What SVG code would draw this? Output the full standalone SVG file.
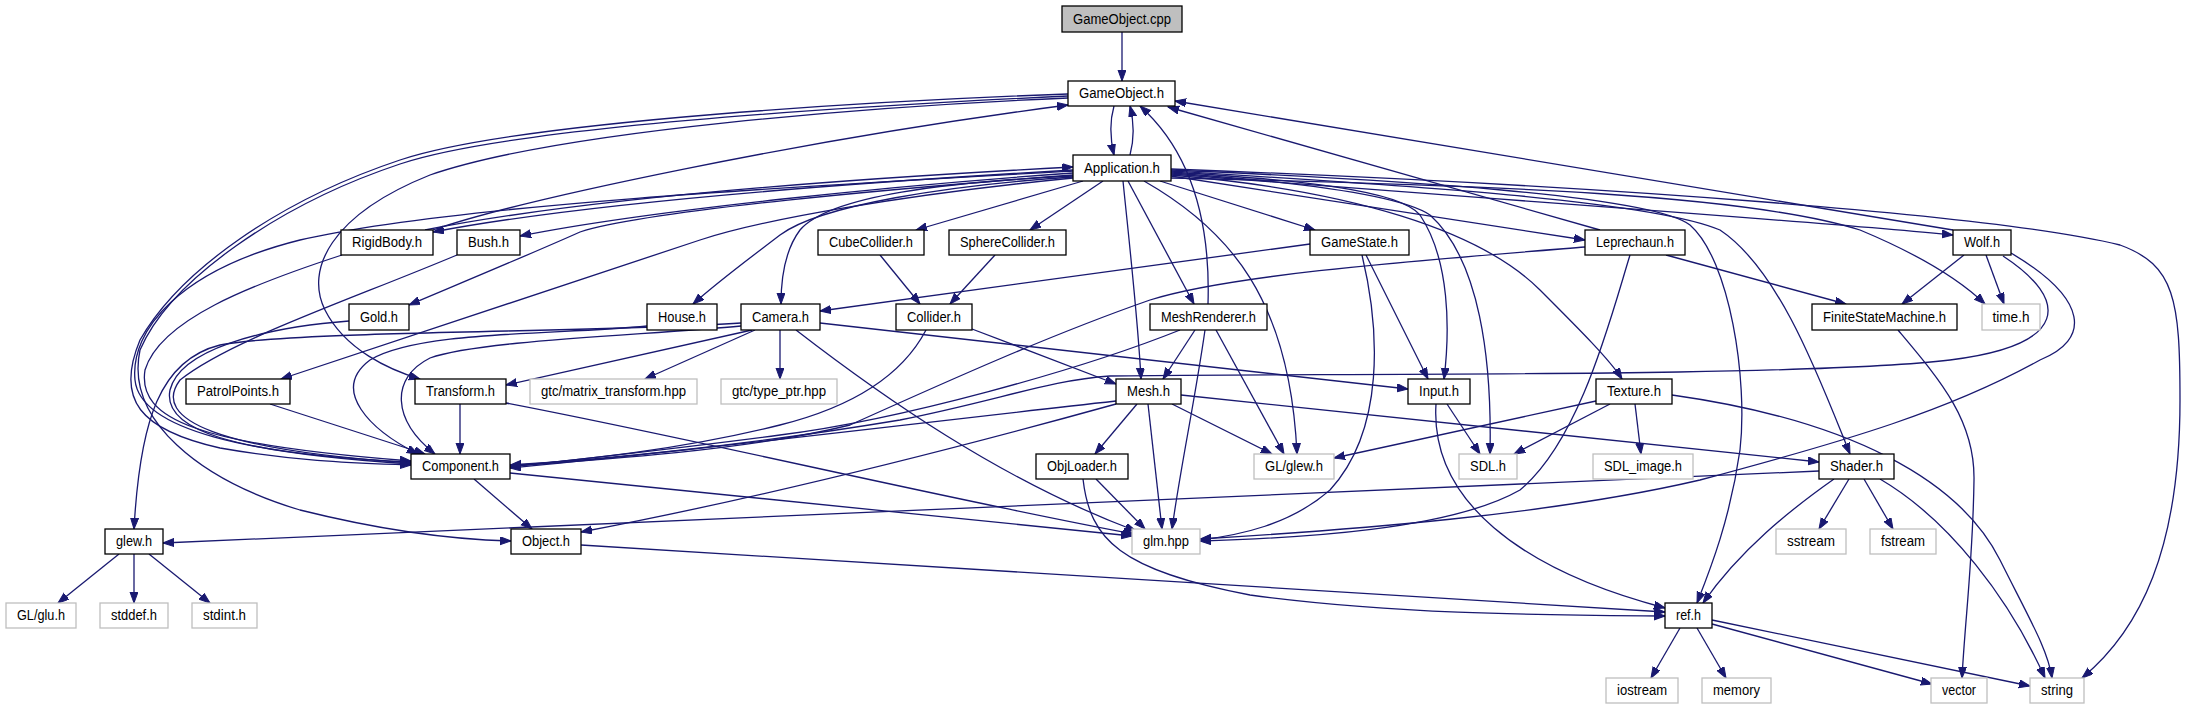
<svg xmlns="http://www.w3.org/2000/svg" width="2185" height="709" viewBox="0 0 2185 709">
<style>
.n rect{fill:#ffffff;stroke:#000000;stroke-width:1.3}
.x rect{fill:#ffffff;stroke:#bfbfbf;stroke-width:1.3}
.r rect{fill:#bfbfbf;stroke:#000000;stroke-width:1.3}
text{font-family:"Liberation Sans",Arial,sans-serif;font-size:14px;fill:#000000;text-anchor:middle}
#edges path{fill:none;stroke:#191970;stroke-width:1.3;marker-end:url(#ah)}
</style>
<defs>
<marker id="ah" markerUnits="userSpaceOnUse" markerWidth="12" markerHeight="9" refX="11" refY="4" orient="auto">
<path d="M0,0 L11,4 L0,8 z" fill="#191970" stroke="#191970" stroke-width="1"/>
</marker>
</defs>
<rect width="2185" height="709" fill="#ffffff"/>
<g id="edges">
<path d="M1122,32 L1122,81"/>
<path d="M1114,106 C1110,120 1110,138 1114,155"/>
<path d="M1130,155 C1134,140 1134,122 1130,106"/>
<path d="M1068,94 C900,100 520,120 400,160 C280,200 180,270 140,340 C115,400 140,430 220,448 C300,462 360,463 411,465"/>
<path d="M1068,96 C900,104 520,124 400,164 C280,204 170,280 140,350 C125,420 200,480 300,510 C400,535 470,540 511,541"/>
<path d="M1068,98 C880,106 560,130 430,175 C330,215 305,270 325,310 C345,350 390,370 420,379"/>
<path d="M433,230 C520,200 800,140 1068,105"/>
<path d="M1073,170 C900,180 600,200 433,232"/>
<path d="M425,230 C600,195 900,176 1073,167"/>
<path d="M1073,173 C900,185 650,210 520,236"/>
<path d="M1073,175 C900,188 650,210 580,232 C540,250 480,275 409,305"/>
<path d="M1073,177 C950,185 820,205 780,235 C750,258 720,280 693,304"/>
<path d="M1073,176 C950,182 830,195 800,230 C785,250 781,280 781,304"/>
<path d="M1073,178 C900,195 760,220 700,240 L281,379"/>
<path d="M1073,171 C800,186 450,205 300,240 C180,270 130,330 135,380 C140,430 250,455 411,462"/>
<path d="M342,255 C250,285 160,320 145,370 C137,420 200,445 411,461"/>
<path d="M457,255 C350,300 230,340 180,380 C150,420 220,450 411,463"/>
<path d="M349,321 C260,328 180,350 170,390 C162,430 230,452 411,464"/>
<path d="M647,326 C560,335 420,330 370,360 C330,390 370,430 418,454"/>
<path d="M741,326 C650,335 480,340 430,358 C390,378 392,420 435,454"/>
<path d="M741,323 C600,333 300,330 220,345 C160,360 140,420 134,529"/>
<path d="M270,404 L425,454"/>
<path d="M460,404 L460,454"/>
<path d="M752,330 L506,385"/>
<path d="M755,330 L645,379"/>
<path d="M780,330 L780,379"/>
<path d="M796,330 C880,395 1000,480 1136,531"/>
<path d="M820,323 L1408,389"/>
<path d="M1310,244 L820,311"/>
<path d="M880,255 L920,304"/>
<path d="M995,255 L950,304"/>
<path d="M972,329 L1116,384"/>
<path d="M926,330 C905,370 860,405 780,425 C680,450 580,460 510,466"/>
<path d="M1083,181 L916,230"/>
<path d="M1103,181 L1030,230"/>
<path d="M1123,181 C1130,250 1138,320 1141,379"/>
<path d="M1128,181 L1194,304"/>
<path d="M1144,181 C1230,230 1290,300 1297,454"/>
<path d="M1160,181 L1315,230"/>
<path d="M1208,304 C1210,240 1200,160 1140,106"/>
<path d="M1195,330 L1163,379"/>
<path d="M1216,330 L1284,454"/>
<path d="M1205,330 C1195,400 1180,470 1172,529"/>
<path d="M1180,330 C1080,370 900,420 780,435 C650,452 570,460 510,467"/>
<path d="M1137,404 L1095,454"/>
<path d="M1148,404 L1162,529"/>
<path d="M1172,404 L1272,454"/>
<path d="M1181,395 L1819,462"/>
<path d="M1116,401 C900,425 700,450 510,468"/>
<path d="M1116,404 C950,450 750,500 581,532"/>
<path d="M1096,479 L1145,529"/>
<path d="M1083,479 C1090,540 1120,570 1250,595 C1400,615 1550,615 1665,616"/>
<path d="M474,479 L532,529"/>
<path d="M510,473 L1132,536"/>
<path d="M506,403 C700,440 950,500 1134,534"/>
<path d="M581,545 L1665,612"/>
<path d="M119,554 L58,603"/>
<path d="M134,554 L134,603"/>
<path d="M149,554 L210,603"/>
<path d="M1819,471 C1500,488 900,510 163,543"/>
<path d="M1366,255 L1428,379"/>
<path d="M1362,255 C1380,330 1385,430 1330,490 C1290,525 1240,535 1200,540"/>
<path d="M1171,172 C1300,180 1400,190 1420,215 C1450,260 1450,330 1444,379"/>
<path d="M1171,173 C1300,182 1400,195 1430,215 C1480,260 1492,360 1490,454"/>
<path d="M1447,404 L1480,454"/>
<path d="M1436,404 C1430,500 1520,570 1665,608"/>
<path d="M1171,175 C1350,190 1480,230 1540,290 C1580,330 1610,360 1622,379"/>
<path d="M1596,401 L1334,458"/>
<path d="M1610,404 L1514,454"/>
<path d="M1635,404 L1641,454"/>
<path d="M1672,395 C1850,420 1960,480 2000,560 C2030,620 2048,650 2052,678"/>
<path d="M1171,171 C1400,185 1650,200 1720,230 C1780,270 1820,380 1850,454"/>
<path d="M1171,170 C1400,180 1650,195 1690,225 C1730,260 1748,380 1740,450 C1730,520 1710,570 1697,603"/>
<path d="M1171,176 L1585,240"/>
<path d="M1600,230 L1168,107"/>
<path d="M1666,255 L1846,304"/>
<path d="M1585,247 C1400,262 1230,275 1150,300 C1050,335 950,380 850,425 C750,450 600,460 510,466"/>
<path d="M1630,255 C1610,320 1580,440 1520,490 C1450,530 1300,538 1200,541"/>
<path d="M1171,174 C1500,200 1800,220 1953,235"/>
<path d="M1953,230 L1175,101"/>
<path d="M1964,255 L1902,304"/>
<path d="M1986,255 L2004,304"/>
<path d="M1171,178 C1500,185 1750,195 1860,230 C1920,255 1960,280 1985,304"/>
<path d="M1171,169 C1600,185 2000,215 2120,245 C2175,265 2180,300 2180,400 C2180,550 2140,630 2082,678"/>
<path d="M2003,256 C2070,300 2070,345 1950,360 C1800,378 1300,373 1110,376 C1050,380 1000,400 900,420 C750,445 600,460 510,465"/>
<path d="M2011,253 C2090,300 2090,340 2040,360 C1950,410 1850,440 1700,480 C1550,515 1350,530 1200,539"/>
<path d="M1898,330 C1940,380 1975,420 1974,480 C1973,560 1965,620 1962,678"/>
<path d="M1849,479 L1819,529"/>
<path d="M1864,479 L1893,529"/>
<path d="M1834,479 C1790,510 1740,550 1703,603"/>
<path d="M1880,479 C1950,520 2010,600 2045,678"/>
<path d="M1680,628 L1651,678"/>
<path d="M1697,628 L1726,678"/>
<path d="M1712,624 L1932,684"/>
<path d="M1712,620 L2030,686"/>
</g>
<g id="node-GameObject_cpp" class="r"><rect x="1062" y="6" width="120" height="26"/><text x="1122" y="24" textLength="98" lengthAdjust="spacingAndGlyphs">GameObject.cpp</text></g>
<g id="node-GameObject_h" class="n"><rect x="1068" y="81" width="107" height="25"/><text x="1121.5" y="98" textLength="85" lengthAdjust="spacingAndGlyphs">GameObject.h</text></g>
<g id="node-Application_h" class="n"><rect x="1073" y="155" width="98" height="26"/><text x="1122" y="173" textLength="76" lengthAdjust="spacingAndGlyphs">Application.h</text></g>
<g id="node-RigidBody_h" class="n"><rect x="341" y="230" width="92" height="25"/><text x="387" y="247" textLength="70" lengthAdjust="spacingAndGlyphs">RigidBody.h</text></g>
<g id="node-Bush_h" class="n"><rect x="457" y="230" width="63" height="25"/><text x="488.5" y="247" textLength="41" lengthAdjust="spacingAndGlyphs">Bush.h</text></g>
<g id="node-CubeCollider_h" class="n"><rect x="818" y="230" width="106" height="25"/><text x="871" y="247" textLength="84" lengthAdjust="spacingAndGlyphs">CubeCollider.h</text></g>
<g id="node-SphereCollider_h" class="n"><rect x="949" y="230" width="117" height="25"/><text x="1007.5" y="247" textLength="95" lengthAdjust="spacingAndGlyphs">SphereCollider.h</text></g>
<g id="node-GameState_h" class="n"><rect x="1310" y="230" width="99" height="25"/><text x="1359.5" y="247" textLength="77" lengthAdjust="spacingAndGlyphs">GameState.h</text></g>
<g id="node-Leprechaun_h" class="n"><rect x="1585" y="230" width="100" height="25"/><text x="1635" y="247" textLength="78" lengthAdjust="spacingAndGlyphs">Leprechaun.h</text></g>
<g id="node-Wolf_h" class="n"><rect x="1953" y="230" width="58" height="25"/><text x="1982" y="247" textLength="36" lengthAdjust="spacingAndGlyphs">Wolf.h</text></g>
<g id="node-Gold_h" class="n"><rect x="349" y="304" width="60" height="26"/><text x="379" y="322" textLength="38" lengthAdjust="spacingAndGlyphs">Gold.h</text></g>
<g id="node-House_h" class="n"><rect x="647" y="304" width="70" height="26"/><text x="682" y="322" textLength="48" lengthAdjust="spacingAndGlyphs">House.h</text></g>
<g id="node-Camera_h" class="n"><rect x="741" y="304" width="79" height="26"/><text x="780.5" y="322" textLength="57" lengthAdjust="spacingAndGlyphs">Camera.h</text></g>
<g id="node-Collider_h" class="n"><rect x="896" y="304" width="76" height="26"/><text x="934" y="322" textLength="54" lengthAdjust="spacingAndGlyphs">Collider.h</text></g>
<g id="node-MeshRenderer_h" class="n"><rect x="1150" y="304" width="117" height="26"/><text x="1208.5" y="322" textLength="95" lengthAdjust="spacingAndGlyphs">MeshRenderer.h</text></g>
<g id="node-FiniteStateMachine_h" class="n"><rect x="1812" y="304" width="145" height="26"/><text x="1884.5" y="322" textLength="123" lengthAdjust="spacingAndGlyphs">FiniteStateMachine.h</text></g>
<g id="node-time_h" class="x"><rect x="1982" y="304" width="58" height="26"/><text x="2011" y="322" textLength="37" lengthAdjust="spacingAndGlyphs">time.h</text></g>
<g id="node-PatrolPoints_h" class="n"><rect x="186" y="379" width="104" height="25"/><text x="238" y="396" textLength="82" lengthAdjust="spacingAndGlyphs">PatrolPoints.h</text></g>
<g id="node-Transform_h" class="n"><rect x="415" y="379" width="91" height="25"/><text x="460.5" y="396" textLength="69" lengthAdjust="spacingAndGlyphs">Transform.h</text></g>
<g id="node-gtc_matrix_transform_hpp" class="x"><rect x="530" y="379" width="167" height="25"/><text x="613.5" y="396" textLength="145" lengthAdjust="spacingAndGlyphs">gtc/matrix_transform.hpp</text></g>
<g id="node-gtc_type_ptr_hpp" class="x"><rect x="721" y="379" width="116" height="25"/><text x="779" y="396" textLength="94" lengthAdjust="spacingAndGlyphs">gtc/type_ptr.hpp</text></g>
<g id="node-Mesh_h" class="n"><rect x="1116" y="379" width="65" height="25"/><text x="1148.5" y="396" textLength="43" lengthAdjust="spacingAndGlyphs">Mesh.h</text></g>
<g id="node-Input_h" class="n"><rect x="1408" y="379" width="62" height="25"/><text x="1439" y="396" textLength="40" lengthAdjust="spacingAndGlyphs">Input.h</text></g>
<g id="node-Texture_h" class="n"><rect x="1596" y="379" width="76" height="25"/><text x="1634" y="396" textLength="54" lengthAdjust="spacingAndGlyphs">Texture.h</text></g>
<g id="node-Component_h" class="n"><rect x="411" y="454" width="99" height="25"/><text x="460.5" y="471" textLength="77" lengthAdjust="spacingAndGlyphs">Component.h</text></g>
<g id="node-ObjLoader_h" class="n"><rect x="1036" y="454" width="92" height="25"/><text x="1082" y="471" textLength="70" lengthAdjust="spacingAndGlyphs">ObjLoader.h</text></g>
<g id="node-GL_glew_h" class="x"><rect x="1254" y="454" width="80" height="25"/><text x="1294" y="471" textLength="58" lengthAdjust="spacingAndGlyphs">GL/glew.h</text></g>
<g id="node-SDL_h" class="x"><rect x="1459" y="454" width="58" height="25"/><text x="1488" y="471" textLength="36" lengthAdjust="spacingAndGlyphs">SDL.h</text></g>
<g id="node-SDL_image_h" class="x"><rect x="1593" y="454" width="100" height="25"/><text x="1643" y="471" textLength="78" lengthAdjust="spacingAndGlyphs">SDL_image.h</text></g>
<g id="node-Shader_h" class="n"><rect x="1819" y="454" width="75" height="25"/><text x="1856.5" y="471" textLength="53" lengthAdjust="spacingAndGlyphs">Shader.h</text></g>
<g id="node-glew_h" class="n"><rect x="105" y="529" width="58" height="25"/><text x="134" y="546" textLength="36" lengthAdjust="spacingAndGlyphs">glew.h</text></g>
<g id="node-Object_h" class="n"><rect x="511" y="529" width="70" height="25"/><text x="546" y="546" textLength="48" lengthAdjust="spacingAndGlyphs">Object.h</text></g>
<g id="node-glm_hpp" class="x"><rect x="1132" y="529" width="68" height="25"/><text x="1166" y="546" textLength="46" lengthAdjust="spacingAndGlyphs">glm.hpp</text></g>
<g id="node-sstream" class="x"><rect x="1776" y="529" width="70" height="25"/><text x="1811" y="546" textLength="48" lengthAdjust="spacingAndGlyphs">sstream</text></g>
<g id="node-fstream" class="x"><rect x="1870" y="529" width="66" height="25"/><text x="1903" y="546" textLength="44" lengthAdjust="spacingAndGlyphs">fstream</text></g>
<g id="node-GL_glu_h" class="x"><rect x="6" y="603" width="70" height="25"/><text x="41" y="620" textLength="48" lengthAdjust="spacingAndGlyphs">GL/glu.h</text></g>
<g id="node-stddef_h" class="x"><rect x="100" y="603" width="68" height="25"/><text x="134" y="620" textLength="46" lengthAdjust="spacingAndGlyphs">stddef.h</text></g>
<g id="node-stdint_h" class="x"><rect x="192" y="603" width="65" height="25"/><text x="224.5" y="620" textLength="43" lengthAdjust="spacingAndGlyphs">stdint.h</text></g>
<g id="node-ref_h" class="n"><rect x="1665" y="603" width="47" height="25"/><text x="1688.5" y="620" textLength="25" lengthAdjust="spacingAndGlyphs">ref.h</text></g>
<g id="node-iostream" class="x"><rect x="1606" y="678" width="72" height="25"/><text x="1642" y="695" textLength="50" lengthAdjust="spacingAndGlyphs">iostream</text></g>
<g id="node-memory" class="x"><rect x="1702" y="678" width="69" height="25"/><text x="1736.5" y="695" textLength="47" lengthAdjust="spacingAndGlyphs">memory</text></g>
<g id="node-vector" class="x"><rect x="1931" y="678" width="56" height="25"/><text x="1959" y="695" textLength="34" lengthAdjust="spacingAndGlyphs">vector</text></g>
<g id="node-string" class="x"><rect x="2030" y="678" width="54" height="25"/><text x="2057" y="695" textLength="32" lengthAdjust="spacingAndGlyphs">string</text></g>
</svg>
